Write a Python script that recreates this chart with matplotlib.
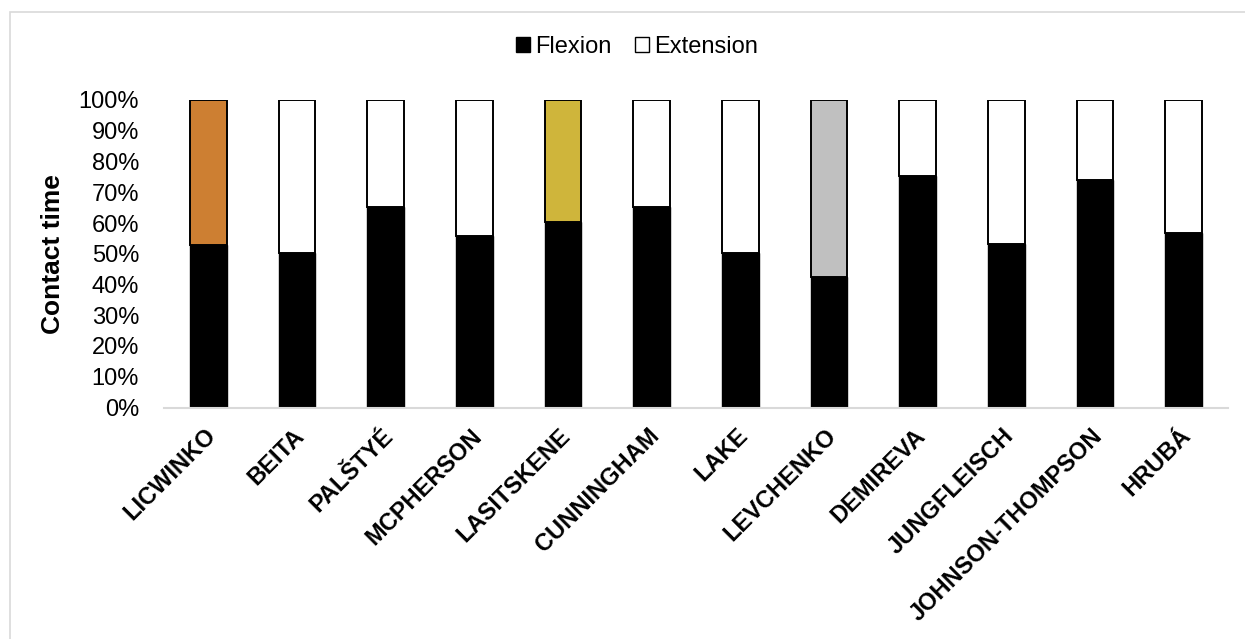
import matplotlib.pyplot as plt
from matplotlib.patches import Rectangle
from matplotlib.ticker import PercentFormatter

athletes = ['LICWINKO', 'BEITA', 'PALŠTYÉ', 'MCPHERSON', 'LASITSKENE', 'CUNNINGHAM',
            'LAKE', 'LEVCHENKO', 'DEMIREVA', 'JUNGFLEISCH', 'JOHNSON-THOMPSON', 'HRUBÁ']
flexion = [53.0, 50.3, 65.3, 55.9, 60.4, 65.3, 50.3, 42.5, 75.4, 53.2, 74.0, 56.9]
extension = [100 - f for f in flexion]
# medal colours for the extension part of the podium athletes
ext_colors = ['#CD7F32', 'white', 'white', 'white', '#CFB53B', 'white',
              'white', '#C0C0C0', 'white', 'white', 'white', 'white']

plt.rcParams['font.family'] = ['Liberation Sans', 'DejaVu Sans']

fig = plt.figure(figsize=(12.45, 6.39), dpi=100)
ax = fig.add_axes([164 / 1245, 1 - 407.5 / 639, (1228 - 164) / 1245, 307.5 / 639])

# light grey frame around the chart area
fig.patches.append(Rectangle((10 / 1245, -0.01), 1.0, 1 - 12 / 639 + 0.01,
                             transform=fig.transFigure, fill=False,
                             edgecolor='#d9d9d9', linewidth=1.2))

x = range(len(athletes))
width = 0.415
ax.bar(x, flexion, width, color='black', edgecolor='black', linewidth=1.0,
       label='Flexion')
ax.bar(x, extension, width, bottom=flexion, color=ext_colors,
       edgecolor='black', linewidth=1.4, label='Extension')

ax.set_xlim(-0.5, len(athletes) - 0.5)
ax.set_ylim(0, 100)
ax.set_yticks(range(0, 101, 10))
ax.yaxis.set_major_formatter(PercentFormatter(decimals=0))
ax.tick_params(axis='y', length=0, labelsize=17, pad=18)
ax.tick_params(axis='x', length=0, pad=12)
ax.set_xticks([i - 0.05 for i in x])
ax.set_xticklabels(athletes, rotation=45, ha='right', rotation_mode='anchor',
                   fontsize=17, fontweight='bold')

for side in ['top', 'right', 'left']:
    ax.spines[side].set_visible(False)
ax.spines['bottom'].set_color('#d9d9d9')
ax.spines['bottom'].set_linewidth(1.5)

ax.set_ylabel('Contact time', fontsize=19, fontweight='bold', labelpad=10)

h, l = ax.get_legend_handles_labels()
ax.legend([h[0], Rectangle((0, 0), 1, 1, facecolor='white', edgecolor='black')], l,
          loc='center', bbox_to_anchor=(637 / 1245, 1 - 47 / 639),
          bbox_transform=fig.transFigure, ncol=2, frameon=False, fontsize=17,
          handlelength=0.6, handleheight=0.6, handletextpad=0.2, columnspacing=1.0)

fig.savefig('out.png', dpi=100)
